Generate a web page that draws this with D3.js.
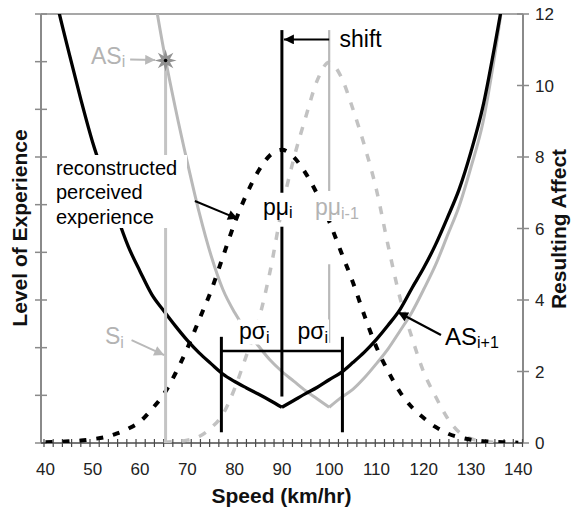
<!DOCTYPE html>
<html>
<head>
<meta charset="utf-8">
<script src="https://cdn.jsdelivr.net/npm/d3@7"></script>
<style>
  body { margin: 0; background: #fff; }
  svg { display: block; }
  text { font-family: "Liberation Sans", Arial, Helvetica, sans-serif; }
</style>
</head>
<body>
<svg id="chart" width="572" height="510"></svg>
<script>
// ---- data -------------------------------------------------------------
const speed = [40, 42.5, 45, 47.5, 50, 52.5, 55, 57.5, 60, 62.5,
               65, 67.5, 70, 72.5, 75, 77.5, 80, 82.5, 85, 87.5,
               90, 92.5, 95, 97.5, 100, 102.5, 105, 107.5, 110, 112.5,
               115, 117.5, 120, 122.5, 125, 127.5, 130, 132.5, 135, 137.5, 140];

// resulting affect for the next step (AS i+1), solid black
const affectNext = [13.8, 12.25, 10.9, 9.6, 8.4, 7.4, 6.4, 5.5, 4.8, 4.15,
                    3.7, 3.27, 2.87, 2.52, 2.22, 1.93, 1.72, 1.54, 1.37, 1.19,
                    1.0, 1.19, 1.38, 1.56, 1.77, 1.97, 2.25, 2.55, 2.9, 3.3,
                    3.74, 4.33, 4.9, 5.55, 6.3, 7.1, 8.15, 9.4, 11.1, 13.0, 15.2];

// resulting affect for the current step (AS i), solid grey
const affectPrev = [null, null, null, null, null, null, null, null, null, 12.9,
                    11.0, 9.35, 7.85, 6.45, 5.25, 4.3, 3.65, 3.14, 2.72, 2.32,
                    2.0, 1.73, 1.46, 1.23, 1.0, 1.27, 1.5, 1.83, 2.22, 2.64,
                    3.14, 3.66, 4.3, 4.98, 5.8, 6.63, 7.72, 8.95, 10.83, 13.1, null];

// reconstructed perceived experience, current (dotted black)
const perceivedNow = [0.02, 0.03, 0.05, 0.07, 0.11, 0.16, 0.26, 0.4, 0.6, 0.95,
                      1.36, 1.95, 2.65, 3.45, 4.25, 5.2, 6.15, 6.95, 7.6, 8.05,
                      8.2, 8.0, 7.55, 6.95, 6.2, 5.35, 4.5, 3.55, 2.68, 2.0,
                      1.42, 1.0, 0.7, 0.45, 0.27, 0.16, 0.09, 0.05, 0.03, 0.02, 0.01];

// perceived experience of the previous step (dotted grey)
const perceivedPrev = [null, null, null, null, null, null, null, null, null, null,
                       0.02, 0.04, 0.08, 0.18, 0.42, 0.8, 1.52, 2.45, 3.4, 4.8,
                       6.55, 7.95, 9.1, 10.15, 10.65, 10.25, 9.35, 8.3, 7.08, 5.5,
                       4.05, 2.95, 1.98, 1.3, 0.7, 0.3, 0.12, 0.05, 0.02, null, null];

const speedTicks  = [40, 50, 60, 70, 80, 90, 100, 110, 120, 130, 140];
const affectTicks = [0, 2, 4, 6, 8, 10, 12];
const levelTicks  = [0, 1, 2, 3, 4, 5, 6, 7, 8, 9];

const muNow = 90;        // p mu i
const muPrev = 100;      // p mu i-1
const pSigma = 12.8;     // p sigma i
const speedNow = 65.4;   // S i
const affectAtS = 10.7;  // AS i

// ---- layout -----------------------------------------------------------
const W = 572, H = 510;
const P = { left: 41, right: 523, top: 14, bottom: 443 };

const x = d3.scaleLinear().domain([40, 140]).range([45.5, 518.3]);
const y = d3.scaleLinear().domain([0, 12]).range([P.bottom, P.top]);
const yLevel = d3.scaleLinear().domain([0, 9]).range([P.bottom, P.top]);
const minorTick = d3.scaleLinear().domain([0, 52]).range([44, 522.5]);

const BLACK = "#000", GREY = "#b9b9b9", GREY_TXT = "#b3b3b3", AXIS = "#8a8a8a";

const svg = d3.select("#chart");
svg.append("rect").attr("width", W).attr("height", H).attr("fill", "#fff");

const defs = svg.append("defs");
defs.append("clipPath").attr("id", "plotClip")
  .append("rect").attr("x", P.left).attr("y", P.top)
  .attr("width", P.right - P.left).attr("height", P.bottom - P.top);

function marker(id, color) {
  defs.append("marker").attr("id", id)
    .attr("viewBox", "0 0 10 10").attr("refX", 10).attr("refY", 5)
    .attr("markerUnits", "userSpaceOnUse")
    .attr("markerWidth", 12).attr("markerHeight", 10)
    .attr("orient", "auto")
    .append("path").attr("d", "M0,0 L10,5 L0,10 Z").attr("fill", color);
}
marker("arrowBlack", BLACK);
marker("arrowGrey", GREY);

// ---- frame and axes ---------------------------------------------------
const frame = svg.append("g");
frame.append("line").attr("x1", P.left).attr("x2", P.right).attr("y1", P.top).attr("y2", P.top)
  .attr("stroke", AXIS).attr("stroke-width", 1.5);
frame.append("line").attr("x1", P.left).attr("x2", P.left).attr("y1", P.top).attr("y2", P.bottom)
  .attr("stroke", AXIS).attr("stroke-width", 2);
frame.append("line").attr("x1", P.right).attr("x2", P.right).attr("y1", P.top).attr("y2", P.bottom)
  .attr("stroke", AXIS).attr("stroke-width", 2);

frame.selectAll("line.lt").data(levelTicks).join("line").attr("class", "lt")
  .attr("x1", P.left - 6).attr("x2", P.left + 6)
  .attr("y1", d => yLevel(d)).attr("y2", d => yLevel(d))
  .attr("stroke", AXIS).attr("stroke-width", 1.5);

frame.selectAll("line.rt").data(affectTicks).join("line").attr("class", "rt")
  .attr("x1", P.right - 6).attr("x2", P.right + 6)
  .attr("y1", d => y(d)).attr("y2", d => y(d))
  .attr("stroke", AXIS).attr("stroke-width", 1.5);

frame.selectAll("text.rl").data(affectTicks).join("text").attr("class", "rl")
  .attr("x", 535).attr("y", d => y(d) + 6)
  .attr("fill", "#222").style("font-size", "17px").text(d => d);

frame.selectAll("line.bt").data(d3.range(0, 53)).join("line").attr("class", "bt")
  .attr("x1", d => minorTick(d)).attr("x2", d => minorTick(d))
  .attr("y1", P.bottom - 4).attr("y2", P.bottom + 4)
  .attr("stroke", "#4a4a4a").attr("stroke-width", 1.2);
frame.append("line").attr("x1", P.left).attr("x2", P.right).attr("y1", P.bottom).attr("y2", P.bottom)
  .attr("stroke", "#4a4a4a").attr("stroke-width", 1.6);

frame.selectAll("text.bl").data(speedTicks).join("text").attr("class", "bl")
  .attr("x", d => x(d)).attr("y", 475).attr("text-anchor", "middle")
  .attr("fill", "#222").style("font-size", "17px").text(d => d);

svg.append("text").attr("transform", "translate(27,228) rotate(-90)")
  .attr("text-anchor", "middle").style("font-size", "21px").style("font-weight", "bold")
  .attr("fill", "#111").text("Level of Experience");
svg.append("text").attr("transform", "translate(566,229) rotate(-90)")
  .attr("text-anchor", "middle").style("font-size", "21px").style("font-weight", "bold")
  .attr("fill", "#111").text("Resulting Affect");
svg.append("text").attr("x", 281.5).attr("y", 503)
  .attr("text-anchor", "middle").style("font-size", "21px").style("font-weight", "bold")
  .attr("fill", "#111").text("Speed (km/hr)");

// ---- curves -----------------------------------------------------------
const curves = svg.append("g").attr("clip-path", "url(#plotClip)");
const pts = vals => speed.map((s, i) => [s, vals[i]]);
const line = d3.line().defined(d => d[1] != null)
  .x(d => x(d[0])).y(d => y(d[1])).curve(d3.curveMonotoneX);

// solid curves are drawn as two branches that meet at their minimum
function drawBranches(vals, color, width) {
  const p = pts(vals);
  const k = d3.minIndex(vals, v => (v == null ? Infinity : v));
  [p.slice(0, k + 1), p.slice(k)].forEach(seg => {
    curves.append("path").attr("d", line(seg)).attr("fill", "none")
      .attr("stroke", color).attr("stroke-width", width).attr("stroke-linejoin", "round");
  });
}

drawBranches(affectPrev, GREY, 3);
curves.append("path").attr("d", line(pts(perceivedPrev))).attr("fill", "none")
  .attr("stroke", "#c2c2c2").attr("stroke-width", 3.5).attr("stroke-dasharray", "8,10");
drawBranches(affectNext, BLACK, 3.3);
curves.append("path").attr("d", line(pts(perceivedNow))).attr("fill", "none")
  .attr("stroke", BLACK).attr("stroke-width", 4).attr("stroke-dasharray", "7,10");

// ---- reference lines --------------------------------------------------
const refs = svg.append("g");
function vSeg(s, v1, v2, color, width) {
  refs.append("line").attr("x1", x(s)).attr("x2", x(s)).attr("y1", y(v1)).attr("y2", y(v2))
    .attr("stroke", color).attr("stroke-width", width);
}
// S i
vSeg(speedNow, affectAtS, 0, "#c4c4c4", 3);
// p mu i-1 (grey) and p mu i (black)
vSeg(muPrev, 11.55, 7.05, GREY, 2.2);
vSeg(muPrev, 5.0, 2.8, GREY, 2.2);
vSeg(muNow, 11.55, 7.0, BLACK, 3);
vSeg(muNow, 6.05, 1.3, BLACK, 3);

// p sigma bracket
const bracketY = 2.57;
refs.append("line").attr("x1", x(muNow - pSigma)).attr("x2", x(muNow + pSigma))
  .attr("y1", y(bracketY)).attr("y2", y(bracketY)).attr("stroke", BLACK).attr("stroke-width", 2.5);
[muNow - pSigma, muNow + pSigma].forEach(s => vSeg(s, 2.97, 0.3, BLACK, 3));

// shift arrow
refs.append("line").attr("x1", x(muPrev)).attr("x2", x(muNow) + 2)
  .attr("y1", y(11.29)).attr("y2", y(11.29))
  .attr("stroke", BLACK).attr("stroke-width", 2).attr("marker-end", "url(#arrowBlack)");

// ---- annotations ------------------------------------------------------
const notes = svg.append("g");

// box behind the reconstructed-experience note
notes.append("rect").attr("x", 50).attr("y", 155).attr("width", 137).attr("height", 73).attr("fill", "#fff");
["reconstructed", "perceived", "experience"].forEach((t, i) => {
  notes.append("text").attr("x", 56).attr("y", 175 + i * 24.3)
    .attr("fill", BLACK).style("font-size", "20px").text(t);
});
notes.append("line").attr("x1", x(71.6)).attr("y1", y(6.77)).attr("x2", x(80.7)).attr("y2", y(6.27))
  .attr("stroke", BLACK).attr("stroke-width", 2).attr("marker-end", "url(#arrowBlack)");

function subLabel(px, py, main, sub, color, size, subSize, subDy, boxed) {
  const t = notes.append("text").attr("x", px).attr("y", py).attr("fill", color)
    .style("font-size", size + "px");
  t.append("tspan").text(main);
  t.append("tspan").attr("dy", subDy).style("font-size", subSize + "px").text(sub);
  if (boxed) {
    const b = t.node().getBBox();
    notes.insert("rect", () => t.node())
      .attr("x", b.x - 1).attr("y", b.y + 2).attr("width", b.width + 2).attr("height", b.height - 3)
      .attr("fill", "#fff");
  }
  return t;
}

subLabel(263, 215, "p\u03bc", "i", BLACK, 23, 16, 3, true);
subLabel(315, 215, "p\u03bc", "i-1", GREY_TXT, 23, 16, 4, true);
subLabel(239, 338.5, "p\u03c3", "i", BLACK, 23, 16, 4, true);
subLabel(297.5, 338.5, "p\u03c3", "i", BLACK, 23, 16, 4, true);

notes.append("text").attr("x", 339.5).attr("y", 46.5).attr("fill", BLACK)
  .style("font-size", "23px").text("shift");

// AS i+1
subLabel(445, 344.5, "AS", "i+1", BLACK, 24, 16, 3.5, false);
notes.append("line").attr("x1", x(123.65)).attr("y1", y(3.02)).attr("x2", x(114.56)).attr("y2", y(3.66))
  .attr("stroke", BLACK).attr("stroke-width", 2.2).attr("marker-end", "url(#arrowBlack)");

// S i
subLabel(105, 344, "S", "i", GREY_TXT, 23, 16, 4, false);
notes.append("line").attr("x1", x(58.2)).attr("y1", y(2.88)).attr("x2", x(65.1)).attr("y2", y(2.46))
  .attr("stroke", GREY).attr("stroke-width", 2).attr("marker-end", "url(#arrowGrey)");

// AS i
subLabel(91, 63.5, "AS", "i", GREY_TXT, 23, 16, 3.5, false);
notes.append("line").attr("x1", x(57.9)).attr("y1", y(10.73)).attr("x2", x(63.2)).attr("y2", y(10.71))
  .attr("stroke", GREY).attr("stroke-width", 2).attr("marker-end", "url(#arrowGrey)");

// star marking AS i on the grey curve
const starPts = d3.range(16).map(i => {
  const a = i * Math.PI / 8 - Math.PI / 2;
  const r = i % 2 === 0 ? 11 : 4.8;
  return [x(speedNow) + r * Math.cos(a), y(affectAtS) + r * Math.sin(a)];
});
notes.append("path").attr("d", d3.line()(starPts) + "Z").attr("fill", "#929292");
notes.append("circle").attr("cx", x(speedNow)).attr("cy", y(affectAtS)).attr("r", 1.8).attr("fill", BLACK);
</script>
</body>
</html>
